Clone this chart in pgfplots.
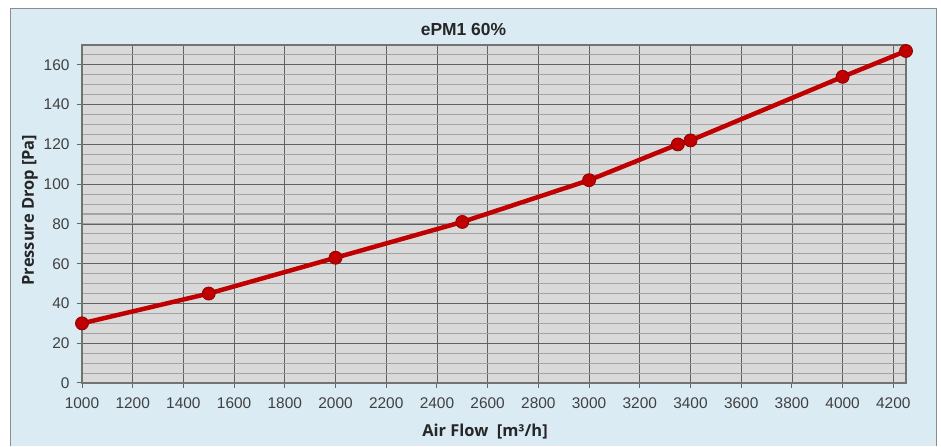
\documentclass[border=0pt]{standalone}
\usepackage{fontspec}
\setmainfont{Liberation Sans}
\newfontfamily\labelfont{Open Sans}
\usepackage{pgfplots}
\pgfplotsset{compat=1.18}
\definecolor{panel}{HTML}{DAEBF4}
\definecolor{plotbg}{HTML}{D9D9D9}
\definecolor{curve}{HTML}{C00000}
\definecolor{ticktext}{HTML}{404040}

\begin{document}
\begin{tikzpicture}
% background panel
\fill[white] (0bp,0bp) rectangle (941bp,446bp);
\fill[panel] (10.5bp,0bp) rectangle (936.5bp,437bp);
\draw[black!45, line width=1bp] (10.5bp,0bp) -- (10.5bp,437bp) -- (936.5bp,437bp) -- (936.5bp,0bp);

\begin{axis}[
    at={(82bp,63bp)}, anchor=south west,
    scale only axis, width=824bp, height=338bp,
    xmin=1000, xmax=4250, ymin=0, ymax=170,
    xtick={1000,1200,...,4200},
    ytick={0,20,...,160},
    minor ytick={5,10,...,170},
    xmajorgrids, ymajorgrids, yminorgrids,
    major grid style={draw=black!62, line width=0.8bp},
    minor grid style={draw=black!36, line width=1.1bp},
    axis background/.style={fill=plotbg},
    axis line style={draw=black!55, line width=1.2bp},
    tick pos=left, tick align=outside,
    major tick length=5bp, minor tick length=0bp,
    major tick style={draw=black!60, line width=1bp},
    /pgf/number format/assume math mode=true,
    /pgf/number format/1000 sep={},
    tick label style={font=\fontsize{15.5}{18}\selectfont, text=ticktext},
    xticklabel style={yshift=-6bp},
    yticklabel style={xshift=-4bp},
    clip=false,
]
\addplot[curve, line width=4.5bp, mark=*, mark size=6.5bp,
    mark options={fill=curve, draw=curve!75!black, line width=0.8bp}]
    coordinates {
    (1000,30) (1500,45) (2000,63) (2500,81) (3000,102)
    (3350,120) (3400,122) (4000,154) (4250,167)
    };
\end{axis}

\node[font=\fontsize{17.5}{20}\selectfont\bfseries, text=black!85] at (463.5bp,416bp) {ePM1 60\%};
\node[font=\labelfont\fontsize{16.5}{20}\selectfont\bfseries, text=black!85] at (485bp,14bp) {Air Flow\ \ [m³/h]};
\node[font=\labelfont\fontsize{16.5}{20}\selectfont\bfseries, text=black!85, rotate=90] at (30bp,236bp) {Pressure Drop [Pa]};
\end{tikzpicture}
\end{document}
